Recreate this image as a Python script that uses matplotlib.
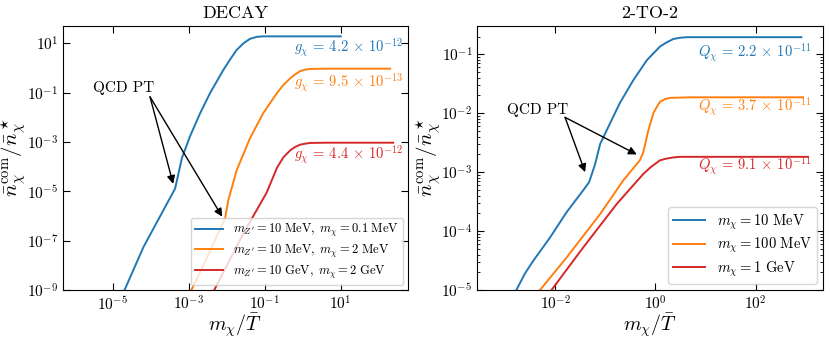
import numpy as np
import matplotlib
matplotlib.use("Agg")
import matplotlib.pyplot as plt
from matplotlib.ticker import LogLocator, NullLocator, NullFormatter, FixedLocator, LogFormatterSciNotation

plt.rcParams['mathtext.fontset'] = 'cm'
plt.rcParams['font.family'] = ['cmr10', 'DejaVu Serif']
plt.rcParams['axes.formatter.use_mathtext'] = True
plt.rcParams['axes.unicode_minus'] = True

# ---------------- DECAY panel data (log10 x, log10 y) ----------------
decay_blue_lx = [-4.69, -4.19, -3.36, -3.27, -3.18, -2.97, -2.70, -2.44, -2.09, -1.91, -1.74, -1.56,
                 -1.39, -1.21, -1.05, -0.8, 0.0, 1.0]
decay_blue_ly = [-9.0, -7.25, -4.89, -4.27, -3.65, -2.78, -1.83, -1.02, -0.08, 0.35, 0.73, 1.0,
                 1.18, 1.26, 1.28, 1.28, 1.28, 1.28]
decay_orange_lx = [-2.93, -2.50, -2.045, -1.96, -1.74, -1.39, -1.04, -0.68, -0.51, -0.33, -0.20,
                   -0.07, 0.06, 0.19, 0.6, 1.5, 2.3]
decay_orange_ly = [-9.0, -7.62, -6.10, -5.36, -4.15, -2.85, -1.83, -1.02, -0.69, -0.42, -0.26,
                   -0.13, -0.07, -0.04, -0.03, -0.03, -0.03]
decay_red_lx = [-2.33, -1.56, -0.95, -0.68, -0.51, -0.33, -0.20, -0.07, 0.06, 0.19, 0.6, 1.5, 2.38]
decay_red_ly = [-9.0, -6.70, -5.05, -4.05, -3.62, -3.34, -3.20, -3.11, -3.07, -3.04, -3.03, -3.03, -3.03]

decay_labels = [r'$m_{Z^\prime} = 10\ \mathrm{MeV},\ m_\chi = 0.1\ \mathrm{MeV}$',
                r'$m_{Z^\prime} = 10\ \mathrm{MeV},\ m_\chi = 2\ \mathrm{MeV}$',
                r'$m_{Z^\prime} = 10\ \mathrm{GeV},\ m_\chi = 2\ \mathrm{GeV}$']
decay_couplings = [r'$g_\chi\,=\,4.2\,\times\,10^{-12}$',
                   r'$g_\chi\,=\,9.5\,\times\,10^{-13}$',
                   r'$g_\chi\,=\,4.4\,\times\,10^{-12}$']

# ---------------- 2-TO-2 panel data (log10 x, log10 y) ----------------
tt_blue_lx = [-2.77, -2.60, -2.43, -2.10, -1.77, -1.44, -1.32, -1.20, -1.10, -0.97, -0.71, -0.44,
              -0.17, 0.09, 0.22, 0.36, 0.49, 0.62, 1.5, 2.91]
tt_blue_ly = [-5.0, -4.72, -4.50, -4.11, -3.68, -3.31, -3.17, -2.86, -2.52, -2.29, -1.83, -1.44,
              -1.10, -0.87, -0.80, -0.74, -0.72, -0.71, -0.71, -0.71]
tt_orange_lx = [-2.30, -1.77, -1.10, -0.64, -0.31, -0.24, -0.14, -0.04, 0.03, 0.09, 0.19, 0.29,
                0.7, 1.8, 2.94]
tt_orange_ly = [-5.0, -4.45, -3.71, -3.14, -2.80, -2.66, -2.29, -2.00, -1.89, -1.81, -1.76, -1.74,
                -1.73, -1.73, -1.73]
tt_red_lx = [-2.07, -1.44, -0.77, -0.24, -0.10, 0.09, 0.22, 0.36, 0.49, 0.75, 1.8, 3.04]
tt_red_ly = [-5.0, -4.28, -3.54, -3.03, -2.92, -2.80, -2.77, -2.75, -2.74, -2.74, -2.74, -2.74]

tt_labels = [r'$m_\chi = 10\ \mathrm{MeV}$',
             r'$m_\chi = 100\ \mathrm{MeV}$',
             r'$m_\chi = 1\ \mathrm{GeV}$']
tt_couplings = [r'$Q_\chi\,=\,2.2\,\times\,10^{-11}$',
                r'$Q_\chi\,=\,3.7\,\times\,10^{-11}$',
                r'$Q_\chi\,=\,9.1\,\times\,10^{-11}$']

colors = ['tab:blue', 'tab:orange', 'tab:red']

fig = plt.figure(figsize=(8.30, 3.39), dpi=100)
ax1 = fig.add_axes([0.0759, 0.1445, 0.4157, 0.7788])
ax2 = fig.add_axes([0.5750, 0.1445, 0.4165, 0.7788])


def style(ax):
    ax.set_xscale('log')
    ax.set_yscale('log')
    ax.tick_params(which='both', direction='in', top=True, right=True, labelsize=11)
    ax.tick_params(which='major', length=5)
    ax.tick_params(which='minor', length=2.5)


ylab = r'$\bar{n}_\chi^{\rm com}/\bar{n}_\chi^\star$'
xlab = r'$m_\chi/\bar{T}$'

# ---- DECAY ----
style(ax1)
for lx, ly, c, lab in zip([decay_blue_lx, decay_orange_lx, decay_red_lx],
                          [decay_blue_ly, decay_orange_ly, decay_red_ly], colors, decay_labels):
    ax1.plot(10.0 ** np.array(lx), 10.0 ** np.array(ly), color=c, lw=1.4, label=lab)
ax1.set_xlim(10 ** -6.31, 10 ** 2.77)
ax1.set_ylim(1e-9, 10 ** 1.7)
ax1.xaxis.set_major_locator(FixedLocator([1e-5, 1e-3, 1e-1, 1e1]))
ax1.yaxis.set_major_locator(FixedLocator([1e-9, 1e-7, 1e-5, 1e-3, 1e-1, 1e1]))
ax1.xaxis.set_major_formatter(LogFormatterSciNotation())
ax1.yaxis.set_major_formatter(LogFormatterSciNotation())
ax1.xaxis.set_minor_locator(NullLocator())
ax1.yaxis.set_minor_locator(NullLocator())
ax1.set_title('DECAY', fontsize=13)
ax1.set_xlabel(xlab, fontsize=14.5)
ax1.xaxis.set_label_coords(0.5, -0.082)
ax1.set_ylabel(ylab, fontsize=15)
ax1.yaxis.set_label_coords(-0.10, 0.5)
ax1.legend(loc='lower right', fontsize=9, borderaxespad=0.4, handlelength=2.2,
           labelspacing=0.3, borderpad=0.35)
for c, t, ly in zip(colors, decay_couplings, [0.81, -0.61, -3.52]):
    ax1.text(10 ** 2.64, 10 ** ly, t, color=c, ha='right', va='center', fontsize=10.5)
ax1.text(10 ** -5.52, 10 ** -0.81, 'QCD PT', ha='left', va='center', fontsize=11)
for end in [(10 ** -3.41, 10 ** -4.7), (10 ** -2.12, 10 ** -6.03)]:
    ax1.annotate('', xy=end, xytext=(10 ** -4.02, 10 ** -1.17),
                 arrowprops=dict(arrowstyle='-|>', color='black', lw=1.0, mutation_scale=12,
                                 shrinkA=0, shrinkB=0))

# ---- 2-TO-2 ----
style(ax2)
for lx, ly, c, lab in zip([tt_blue_lx, tt_orange_lx, tt_red_lx],
                          [tt_blue_ly, tt_orange_ly, tt_red_ly], colors, tt_labels):
    ax2.plot(10.0 ** np.array(lx), 10.0 ** np.array(ly), color=c, lw=1.4, label=lab)
ax2.set_xlim(10 ** -3.55, 10 ** 3.34)
ax2.set_ylim(1e-5, 10 ** -0.52)
ax2.xaxis.set_major_locator(FixedLocator([1e-2, 1e0, 1e2]))
ax2.xaxis.set_major_formatter(LogFormatterSciNotation())
ax2.xaxis.set_minor_locator(NullLocator())
ax2.yaxis.set_major_locator(LogLocator(base=10.0, numticks=20))
ax2.yaxis.set_minor_locator(LogLocator(base=10.0, subs=np.arange(2, 10), numticks=20))
ax2.yaxis.set_minor_formatter(NullFormatter())
ax2.set_title('2-TO-2', fontsize=13)
ax2.set_xlabel(xlab, fontsize=14.5)
ax2.xaxis.set_label_coords(0.5, -0.082)
ax2.set_ylabel(ylab, fontsize=15)
ax2.yaxis.set_label_coords(-0.10, 0.5)
ax2.legend(loc='lower right', fontsize=10.5, borderaxespad=0.4, handlelength=2.2,
           labelspacing=0.3, borderpad=0.35)
for c, t, ly in zip(colors, tt_couplings, [-0.98, -1.90, -2.89]):
    ax2.text(10 ** 3.11, 10 ** ly, t, color=c, ha='right', va='center', fontsize=10.5)
ax2.text(10 ** -2.96, 10 ** -1.95, 'QCD PT', ha='left', va='center', fontsize=11)
for end in [(10 ** -1.40, 10 ** -3.0), (10 ** -0.37, 10 ** -2.70)]:
    ax2.annotate('', xy=end, xytext=(10 ** -1.80, 10 ** -2.07),
                 arrowprops=dict(arrowstyle='-|>', color='black', lw=1.0, mutation_scale=12,
                                 shrinkA=0, shrinkB=0))

fig.savefig('out.png', dpi=100)
